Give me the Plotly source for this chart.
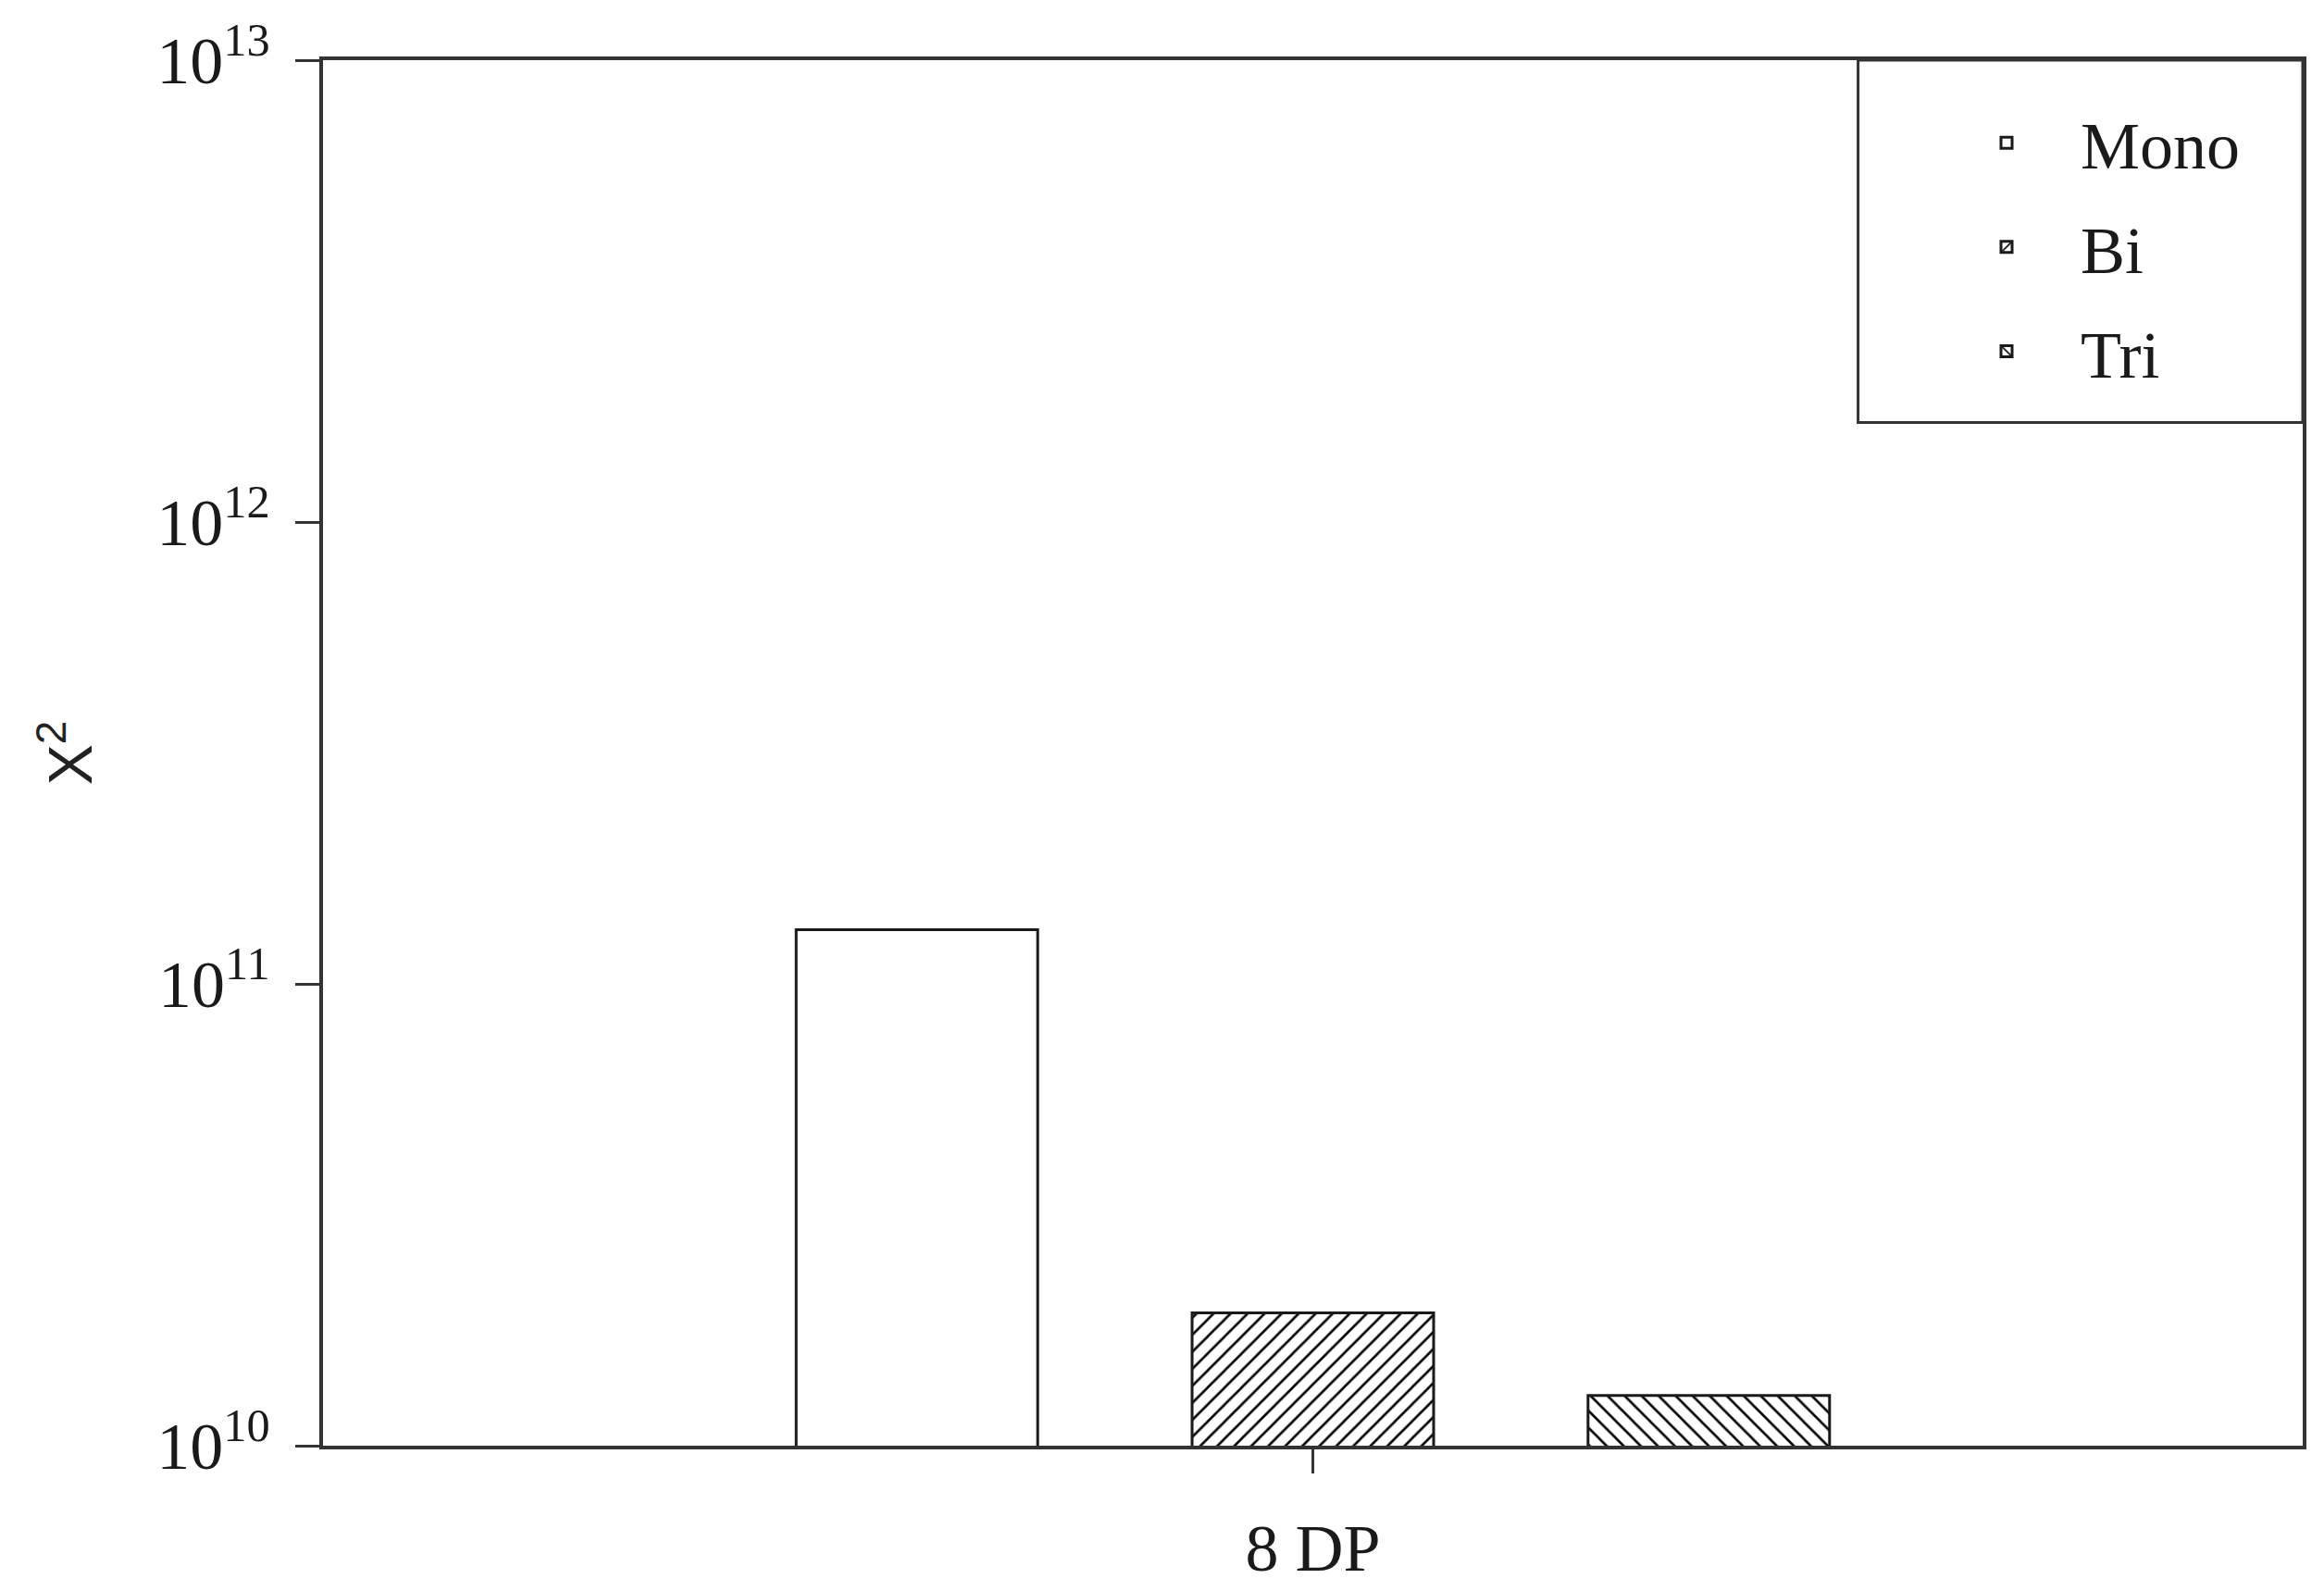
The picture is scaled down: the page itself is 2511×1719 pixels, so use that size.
import plotly.graph_objects as go

categories = ["8 DP"]
series = ["Mono", "Bi", "Tri"]
mono = [1.31e11]
bi = [1.94e10]
tri = [1.285e10]
tick_vals = [1e10, 1e11, 1e12, 1e13]
tick_text = ["10<sup>10</sup>", "10<sup>11</sup>", "10<sup>12</sup>", "10<sup>13</sup>"]

patterns = {"Mono": "", "Bi": "/", "Tri": "\\"}

fig = go.Figure()

for name, vals in [("Mono", mono), ("Bi", bi), ("Tri", tri)]:
    fig.add_trace(
        go.Bar(
            x=categories, y=vals, name=name, legendgroup=name,
            marker=dict(
                color="white",
                line=dict(color="#1a1a1a", width=3),
                pattern=dict(shape=patterns[name], fgcolor="#000", bgcolor="white",
                             fgopacity=1, fillmode="replace",
                             size=13, solidity=0.2),
            ),
        )
    )

# legend frame, flush with top/right of the plot
fig.add_shape(type="rect", xref="paper", yref="paper",
              x0=0.7754, x1=1, y0=0.7385, y1=1,
              line=dict(color="#333", width=3), fillcolor="rgba(0,0,0,0)")

fig.update_layout(
    width=2511, height=1719,
    margin=dict(l=341, r=31, t=57, b=165, autoexpand=False),
    plot_bgcolor="white", paper_bgcolor="white",
    barmode="group", bargap=0.40, bargroupgap=0.39,
    font=dict(family="Liberation Serif", size=72, color="#1a1a1a"),
    legend=dict(
        x=0.813, y=0.976, xanchor="left", yanchor="top",
        bgcolor="rgba(0,0,0,0)", borderwidth=0,
        tracegroupgap=16, itemwidth=150,
        font=dict(family="Liberation Serif", size=72),
    ),
)

fig.update_xaxes(
    showline=True, linecolor="#333", linewidth=4, mirror=True,
    ticks="outside", ticklen=26, tickwidth=3, tickcolor="#333",
    ticklabelstandoff=19, showgrid=False, automargin=False,
)
fig.update_yaxes(
    type="log", range=[10, 13], tickvals=tick_vals, ticktext=tick_text,
    showline=True, linecolor="#333", linewidth=4, mirror=True,
    ticks="outside", ticklen=26, tickwidth=3, tickcolor="#333",
    ticklabelstandoff=13, showgrid=False, zeroline=False, automargin=False,
    title=dict(text="X<sup>2</sup>", standoff=49,
               font=dict(family="Liberation Sans", size=66, color="#222")),
)

fig.write_html("out.html")
